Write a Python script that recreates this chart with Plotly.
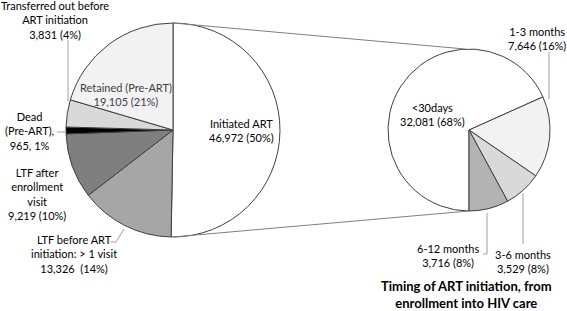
import plotly.graph_objects as go

W, H = 567, 311

# ---- data ----
main_labels = ["Initiated ART", "LTF before ART initiation: > 1 visit", "LTF after enrollment visit",
               "Dead (Pre-ART)", "Transferred out before ART initiation", "Retained (Pre-ART)"]
main_values = [46972, 13326, 9219, 965, 3831, 19105]
main_pct = ["50%", "14%", "10%", "1%", "4%", "21%"]
main_colors = ["#ffffff", "#a6a6a6", "#7f7f7f", "#000000", "#d9d9d9", "#f2f2f2"]

sub_labels = ["<30days", "1-3 months", "3-6 months", "6-12 months"]
sub_values = [32081, 7646, 3529, 3716]
sub_pct = ["68%", "16%", "8%", "8%"]
sub_colors = ["#ffffff", "#f2f2f2", "#d9d9d9", "#b3b3b3"]

title_text = "Timing of ART initiation, from<br>enrollment into HIV care"

# ---- geometry (pixels) ----
L_cx, L_cy, L_r = 173, 130, 107
R_cx, R_cy, R_r = 469, 130, 81


def dom(cx, cy, r):
    return dict(x=[(cx - r) / W, (cx + r) / W], y=[(H - cy - r) / H, (H - cy + r) / H])


fig = go.Figure()
fig.add_trace(go.Pie(labels=main_labels, values=main_values, sort=False, direction="clockwise",
                     rotation=0, textinfo="none", hoverinfo="label+value",
                     marker=dict(colors=main_colors, line=dict(color="#404040", width=1)),
                     domain=dom(L_cx, L_cy, L_r), showlegend=False))
fig.add_trace(go.Pie(labels=sub_labels, values=sub_values, sort=False, direction="clockwise",
                     rotation=180, textinfo="none", hoverinfo="label+value",
                     marker=dict(colors=sub_colors, line=dict(color="#404040", width=1)),
                     domain=dom(R_cx, R_cy, R_r), showlegend=False))


def px(x):
    return x / W


def py(y):
    return (H - y) / H


shapes = []


def seg(x0, y0, x1, y1, color="#808080"):
    shapes.append(dict(type="line", xref="paper", yref="paper", x0=px(x0), y0=py(y0),
                       x1=px(x1), y1=py(y1), line=dict(color=color, width=1)))


# connectors between pies
seg(L_cx, L_cy - L_r, R_cx - 4, R_cy - R_r, "#7f7f7f")
seg(L_cx, L_cy + L_r, R_cx, R_cy + R_r, "#7f7f7f")
# leader lines
seg(68, 40, 68, 101, "#a0a0a0")
seg(57, 132, 66, 132, "#a0a0a0")
seg(110, 242, 116, 242, "#a0a0a0")
seg(116, 242, 124, 229, "#a0a0a0")
seg(549, 52, 549, 99, "#a0a0a0")
seg(523, 193, 523, 244, "#a0a0a0")
seg(487, 213, 487, 254, "#a0a0a0")
seg(487, 254, 483, 254, "#a0a0a0")

FONT = "Lato"
anns = []


def lab(x, y, text, color="#000000", size=11, bold=False):
    t = f"<b>{text}</b>" if bold else text
    anns.append(dict(x=px(x), y=py(y), xref="paper", yref="paper", text=t, showarrow=False,
                     xanchor="center", yanchor="middle", align="center",
                     font=dict(family=FONT, size=size, color=color)))


v = [f"{x:,}" for x in main_values]
s = [f"{x:,}" for x in sub_values]

lab(241, 130, f"Initiated ART<br>{v[0]} ({main_pct[0]})")
lab(74, 254, f"LTF before ART<br>initiation: &gt; 1 visit<br>{v[1]}  ({main_pct[1]})")
lab(37, 194, f"LTF after<br>enrollment<br>visit<br>{v[2]} ({main_pct[2]})")
lab(29, 131, f"Dead<br>(Pre-ART),<br>{v[3]}, {main_pct[3]}")
lab(55, 20, f"Transferred out before<br>ART initiation<br>{v[4]} ({main_pct[4]})")
lab(126, 95, f"Retained (Pre-ART)<br>{v[5]} ({main_pct[5]})", color="#404040")

lab(432, 114, f"{sub_labels[0]}<br>{s[0]} ({sub_pct[0]})")
lab(537, 39, f"{sub_labels[1]}<br>{s[1]} ({sub_pct[1]})")
lab(523, 261, f"{sub_labels[2]}<br>{s[2]} ({sub_pct[2]})")
lab(448, 255, f"{sub_labels[3]}<br>{s[3]} ({sub_pct[3]})")
lab(466, 294, title_text, size=13, bold=True)

fig.update_layout(width=W, height=H, margin=dict(l=0, r=0, t=0, b=0),
                  paper_bgcolor="white", plot_bgcolor="white",
                  shapes=shapes, annotations=anns, font=dict(family=FONT))

fig.write_html("out.html", config={"displayModeBar": False},
               post_script="document.body.style.margin='0';document.body.style.overflow='hidden';")
